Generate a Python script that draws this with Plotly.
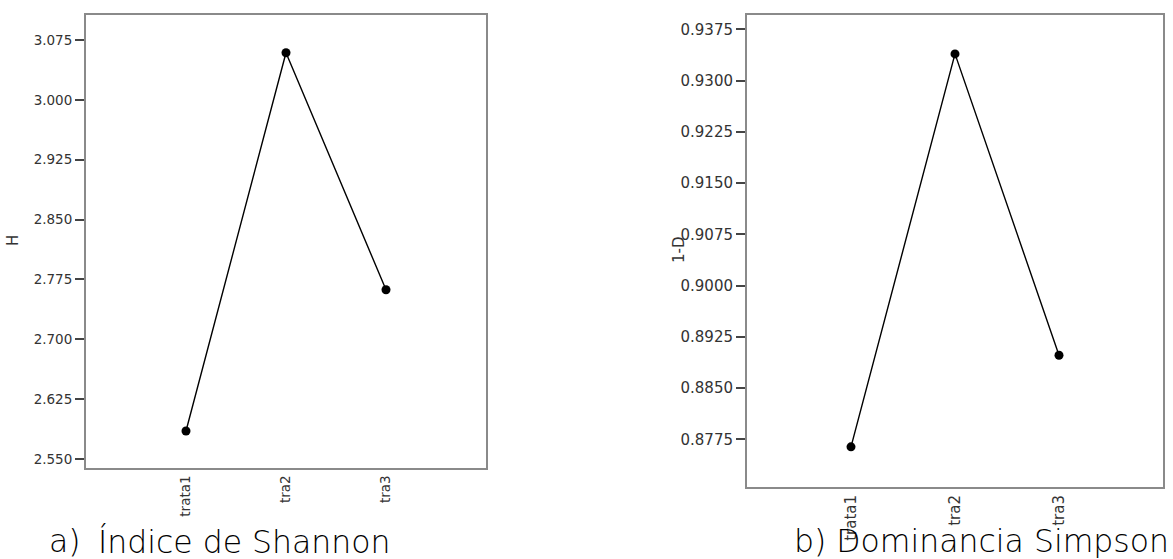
import plotly.graph_objects as go

# ---- data ----
categories = ["trata1", "tra2", "tra3"]
shannon_H = [2.585, 3.059, 2.762]
simpson_1mD = [0.8764, 0.9339, 0.8898]

shannon_ticks = [2.550, 2.625, 2.700, 2.775, 2.850, 2.925, 3.000, 3.075]
shannon_ticklabels = ["2.550", "2.625", "2.700", "2.775", "2.850", "2.925", "3.000", "3.075"]
simpson_ticks = [0.8775, 0.8850, 0.8925, 0.9000, 0.9075, 0.9150, 0.9225, 0.9300, 0.9375]
simpson_ticklabels = ["0.8775", "0.8850", "0.8925", "0.9000", "0.9075", "0.9150", "0.9225", "0.9300", "0.9375"]

W, H = 1173, 559

def px_x(p):
    return p / W

def px_y(p):
    return 1 - p / H

fig = go.Figure()
fig.add_trace(go.Scatter(x=categories, y=shannon_H, mode="lines+markers",
                         line=dict(color="black", width=1.4),
                         marker=dict(color="black", size=9),
                         xaxis="x", yaxis="y", showlegend=False))
fig.add_trace(go.Scatter(x=categories, y=simpson_1mD, mode="lines+markers",
                         line=dict(color="black", width=1.4),
                         marker=dict(color="black", size=9),
                         xaxis="x2", yaxis="y2", showlegend=False))

axis_line = dict(showline=True, linecolor="#8a8a8a", linewidth=2, mirror=True,
                 showgrid=False, zeroline=False)
tickfont_l = dict(family="DejaVu Sans", size=13.5, color="#333333")
tickfont_r = dict(family="DejaVu Sans", size=15, color="#333333")

fig.update_layout(
    width=W, height=H,
    margin=dict(l=0, r=0, t=0, b=0),
    paper_bgcolor="white", plot_bgcolor="white",
    xaxis=dict(domain=[px_x(86), px_x(486)], anchor="y", type="category",
               range=[-1, 3], ticks="", tickangle=-90, tickfont=tickfont_l,
               **axis_line),
    yaxis=dict(domain=[px_y(468), px_y(15)], anchor="x",
               range=[2.5387, 3.1063], tickvals=shannon_ticks, ticktext=shannon_ticklabels,
               ticks="outside", ticklen=9, tickwidth=1.5, tickcolor="#444444",
               tickfont=tickfont_l, **axis_line),
    xaxis2=dict(domain=[px_x(747), px_x(1163)], anchor="y2", type="category",
                range=[-1, 3], ticks="", tickangle=-90, tickfont=tickfont_r,
                **axis_line),
    yaxis2=dict(domain=[px_y(487), px_y(15)], anchor="x2",
                range=[0.87052, 0.93959], tickvals=simpson_ticks, ticktext=simpson_ticklabels,
                ticks="outside", ticklen=9, tickwidth=1.5, tickcolor="#444444",
                tickfont=tickfont_r, **axis_line),
)

cap_font = dict(family="DejaVu Sans", size=31.5, color="#000000", weight=300)
annots = [
    dict(text="H", x=px_x(13), y=px_y(241), textangle=-90,
         font=dict(family="DejaVu Sans", size=15, color="#333333")),
    dict(text="1-D", x=px_x(679), y=px_y(250), textangle=-90,
         font=dict(family="DejaVu Sans", size=15, color="#333333")),
    dict(text="a)", x=px_x(47), y=px_y(541), xanchor="left", font=cap_font),
    dict(text="Índice de Shannon", x=px_x(96), y=px_y(541), xanchor="left", font=cap_font),
    dict(text="b) Dominancia Simpson", x=px_x(1171), y=px_y(541), xanchor="right", font=cap_font),
]
for a in annots:
    a.setdefault("xanchor", "center")
    fig.add_annotation(xref="paper", yref="paper", showarrow=False, yanchor="middle", **a)

fig.write_html("out.html")
